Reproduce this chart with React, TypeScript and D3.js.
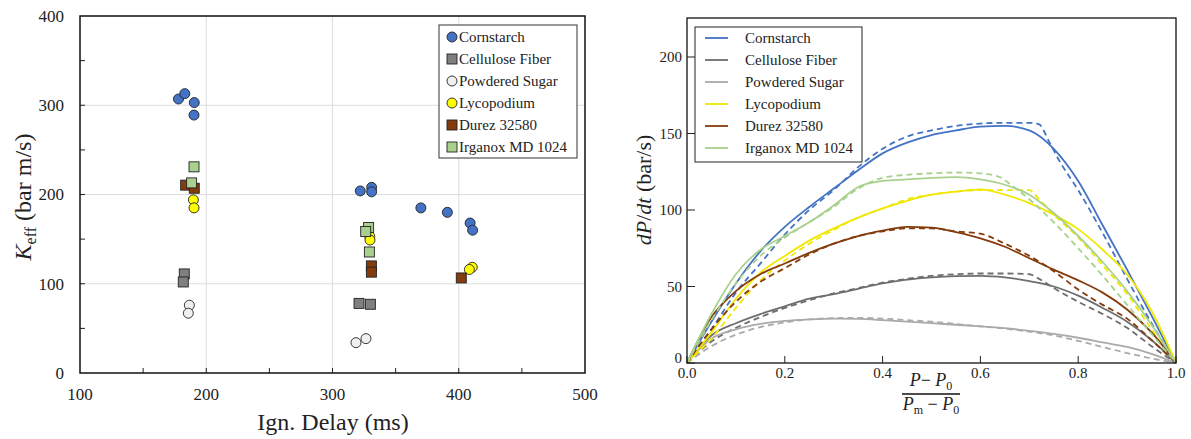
import React from 'react';
import * as d3 from 'd3';

// ---- scatter data: [ignition delay (ms), K_eff (bar m/s)] ----
const cornstarchPts = [[178, 307], [183, 313], [190.5, 303], [190.3, 289], [322, 204], [331, 208], [331, 203], [370, 185], [391, 180], [409, 168], [411, 160]];
const cellulosePts = [[182.6, 111], [181.8, 102], [321, 78], [330, 77]];
const sugarPts = [[186.6, 76], [185.8, 67], [318.6, 34], [326.5, 38.5]];
const lycopodiumPts = [[189.8, 194], [190.3, 185], [329.5, 153], [329.7, 149], [410.7, 118.5], [408.4, 116]];
const durezPts = [[183.7, 210.5], [190.5, 207], [330.8, 120], [330.8, 113], [402, 106.5]];
const irganoxPts = [[190.3, 231], [188.4, 213], [328.6, 163], [326.3, 158.5], [329.2, 135.6]];

// ---- dP/dt curves: x = (P-P0)/(Pm-P0) ----
const xs = [0, 0.05, 0.1, 0.15, 0.2, 0.25, 0.3, 0.35, 0.4, 0.45, 0.5, 0.55, 0.6, 0.65, 0.7, 0.75, 0.8, 0.85, 0.9, 0.95, 1];
const cornstarchSolid = [0, 27, 52, 73, 89, 102, 114, 126, 137, 144, 149, 152, 154.5, 155, 152, 140, 119, 90, 61, 31, 0];
const cornstarchDashX = [0, 0.05, 0.1, 0.15, 0.2, 0.25, 0.3, 0.35, 0.4, 0.45, 0.5, 0.55, 0.6, 0.65, 0.7, 0.72, 0.74, 0.76, 0.8, 0.85, 0.9, 0.95, 1];
const cornstarchDash = [0, 22, 46, 65, 84, 100, 113, 128, 140, 148, 152, 155, 156.5, 157, 157, 156, 145, 133, 113, 85, 55, 26, 0];
const celluloseSolid = [0, 18, 26, 32, 37, 42, 45, 48.5, 52, 54.5, 56, 56.8, 57, 56, 53.5, 50, 44, 36, 27, 15, 0];
const celluloseDashX = [0, 0.05, 0.1, 0.15, 0.2, 0.25, 0.3, 0.35, 0.4, 0.45, 0.5, 0.55, 0.6, 0.65, 0.7, 0.72, 0.75, 0.8, 0.85, 0.9, 0.95, 1];
const celluloseDash = [0, 14, 23, 30, 36, 41, 45.5, 49, 52.5, 55, 57, 58, 58.5, 58.5, 58, 55, 49, 40, 32, 23, 11, 0];
const sugarSolid = [0, 16, 22, 25.5, 27.5, 28.5, 29, 28.8, 28, 27, 26, 25, 24, 22.8, 21, 19, 16.5, 13.5, 10.5, 6, 0];
const sugarDash = [0, 11, 18.5, 23.5, 26.5, 28.5, 29.3, 29.5, 29, 28, 27, 25.5, 24, 22.5, 20.5, 18, 14.5, 10.5, 6.5, 3, 0];
const lycopodiumSolid = [0, 20, 42, 59, 70, 80, 88, 95, 101, 106, 110, 112, 113.5, 110, 104.5, 97, 87.5, 74, 58, 34, 0];
const lycopodiumDashX = [0, 0.05, 0.1, 0.15, 0.2, 0.25, 0.3, 0.35, 0.4, 0.45, 0.5, 0.55, 0.6, 0.65, 0.7, 0.72, 0.75, 0.8, 0.85, 0.9, 0.95, 1];
const lycopodiumDash = [0, 16, 36, 54, 67, 78, 87, 95, 101, 107, 110, 112, 113, 113, 113, 107, 97, 82, 64, 45, 22, 0];
const durezSolid = [0, 30, 47, 58, 65, 72, 78, 83, 86.5, 89, 88.5, 85.5, 81.5, 76, 68.5, 61, 54, 46, 35, 20, 0];
const durezDash = [0, 22, 40, 53, 62, 71, 78, 83, 86, 88, 88, 86, 84.5, 78, 70, 60, 48, 38, 29, 15, 0];
const irganoxSolid = [0, 32, 58, 74, 83, 92, 103, 115, 119, 120, 121, 121.5, 120, 116.5, 110, 98, 83, 66, 47, 25, 0];
const irganoxDashX = [0, 0.05, 0.1, 0.15, 0.2, 0.25, 0.3, 0.35, 0.4, 0.45, 0.5, 0.55, 0.6, 0.64, 0.66, 0.7, 0.75, 0.8, 0.85, 0.9, 0.95, 1];
const irganoxDash = [0, 28, 52, 70, 82, 92, 102, 114, 121, 123, 124, 124.5, 124, 121.5, 117, 107, 92, 75, 57, 38, 19, 0];

const xTicksL = [100, 200, 300, 400, 500];
const yTicksL = [0, 100, 200, 300, 400];
const xTicksR = [0, 0.2, 0.4, 0.6, 0.8, 1.0];
const yTicksR = [0, 50, 100, 150, 200];

const font = '"Liberation Serif", "Times New Roman", serif';

const materials = [
  { name: 'Cornstarch', shape: 'circle', fill: '#4472c4', line: '#4472c4', pts: cornstarchPts, solidX: xs, solid: cornstarchSolid, dashX: cornstarchDashX, dash: cornstarchDash },
  { name: 'Cellulose Fiber', shape: 'square', fill: '#7f7f7f', line: '#6e6e6e', pts: cellulosePts, solidX: xs, solid: celluloseSolid, dashX: celluloseDashX, dash: celluloseDash },
  { name: 'Powdered Sugar', shape: 'circle', fill: '#f0f0f0', line: '#aaaaaa', pts: sugarPts, solidX: xs, solid: sugarSolid, dashX: xs, dash: sugarDash },
  { name: 'Lycopodium', shape: 'circle', fill: '#ffff00', line: '#f0e800', pts: lycopodiumPts, solidX: xs, solid: lycopodiumSolid, dashX: lycopodiumDashX, dash: lycopodiumDash },
  { name: 'Durez 32580', shape: 'square', fill: '#843c0c', line: '#843c0c', pts: durezPts, solidX: xs, solid: durezSolid, dashX: xs, dash: durezDash },
  { name: 'Irganox MD 1024', shape: 'square', fill: '#a9d18e', line: '#a9d18e', pts: irganoxPts, solidX: xs, solid: irganoxSolid, dashX: irganoxDashX, dash: irganoxDash },
];

function Marker({ shape, fill, cx, cy }: any) {
  if (shape === 'circle') return <circle cx={cx} cy={cy} r={5} fill={fill} stroke="#222" strokeWidth={0.9} />;
  return <rect x={cx - 5} y={cy - 5} width={10} height={10} fill={fill} stroke="#222" strokeWidth={0.9} />;
}

export default function App() {
  // left scatter
  const x1 = d3.scaleLinear().domain([100, 500]).range([80, 585]);
  const y1 = d3.scaleLinear().domain([0, 400]).range([373, 16]);
  // right curves
  const x2 = d3.scaleLinear().domain([0, 1]).range([687, 1176]);
  const y2 = d3.scaleLinear().domain([0, 200]).range([363, 57]);
  const yTop = y2.invert(18);

  const line = (X: number[], Y: number[]) =>
    d3.line<number>().x((_, i) => x2(X[i])).y((d) => y2(d)).curve(d3.curveMonotoneX)(Y) || '';

  return (
    <svg width={1191} height={439} style={{ position: 'absolute', left: 0, top: 0, background: '#fff' }} fontFamily={font}>
      {/* ===== left panel ===== */}
      <g>
        {xTicksL.slice(1, -1).map((t) => (
          <line key={'gx' + t} x1={x1(t)} x2={x1(t)} y1={y1(400)} y2={y1(0)} stroke="#dddddd" strokeWidth={1} />
        ))}
        {yTicksL.slice(1, -1).map((t) => (
          <line key={'gy' + t} x1={x1(100)} x2={x1(500)} y1={y1(t)} y2={y1(t)} stroke="#dddddd" strokeWidth={1} />
        ))}
        {d3.range(150, 500, 50).map((t) => (
          <line key={'tx' + t} x1={x1(t)} x2={x1(t)} y1={y1(0)} y2={y1(0) - 5} stroke="#222" strokeWidth={1} />
        ))}
        {d3.range(50, 400, 50).map((t) => (
          <line key={'ty' + t} x1={x1(100)} x2={x1(100) + 5} y1={y1(t)} y2={y1(t)} stroke="#222" strokeWidth={1} />
        ))}
        <rect x={x1(100)} y={y1(400)} width={x1(500) - x1(100)} height={y1(0) - y1(400)} fill="none" stroke="#111" strokeWidth={1.5} />
        {xTicksL.map((t) => (
          <text key={'lx' + t} x={x1(t)} y={400} fontSize={17} textAnchor="middle" fill="#222">{t}</text>
        ))}
        {yTicksL.map((t) => (
          <text key={'ly' + t} x={64} y={y1(t)} dy="0.35em" fontSize={17} textAnchor="end" fill="#222">{t}</text>
        ))}
        {materials.map((m) =>
          m.pts.map((p, i) => <Marker key={m.name + i} shape={m.shape} fill={m.fill} cx={x1(p[0])} cy={y1(p[1])} />)
        )}
        <text x={333} y={430} fontSize={24} textAnchor="middle" fill="#222">Ign. Delay (ms)</text>
        <text transform="translate(31,197) rotate(-90)" fontSize={24} textAnchor="middle" fill="#222">
          <tspan fontStyle="italic">K</tspan>
          <tspan fontSize={16} dy={5}>eff</tspan>
          <tspan dy={-5}> (bar m/s)</tspan>
        </text>
        <rect x={439} y={25} width={138} height={133} fill="#fff" stroke="#333" strokeWidth={1} />
        {materials.map((m, i) => (
          <g key={'lg' + m.name}>
            <Marker shape={m.shape} fill={m.fill} cx={452} cy={37 + i * 22} />
            <text x={459} y={37 + i * 22} dy="0.35em" fontSize={15} fill="#222">{m.name}</text>
          </g>
        ))}
      </g>

      {/* ===== right panel ===== */}
      <g>
        {materials.map((m) => (
          <g key={'c' + m.name}>
            <path d={line(m.solidX, m.solid)} fill="none" stroke={m.line} strokeWidth={1.8} />
            <path d={line(m.dashX, m.dash)} fill="none" stroke={m.line} strokeWidth={1.8} strokeDasharray="6,4" />
          </g>
        ))}
        <rect x={x2(0)} y={y2(yTop)} width={x2(1) - x2(0)} height={y2(0) - y2(yTop)} fill="none" stroke="#111" strokeWidth={1.3} />
        {xTicksR.map((t) => (
          <g key={'rx' + t}>
            <line x1={x2(t)} x2={x2(t)} y1={y2(0)} y2={y2(0) - 7} stroke="#222" strokeWidth={1} />
            <text x={x2(t)} y={378} fontSize={15} textAnchor="middle" fill="#222">{t.toFixed(1)}</text>
          </g>
        ))}
        {yTicksR.map((t) => (
          <g key={'ry' + t}>
            <line x1={x2(0)} x2={x2(0) + 8} y1={y2(t)} y2={y2(t)} stroke="#222" strokeWidth={1} />
            <text x={682} y={t === 0 ? y2(t) - 5 : y2(t)} dy="0.35em" fontSize={15} textAnchor="end" fill="#222">{t}</text>
          </g>
        ))}
        <text transform="translate(651,190) rotate(-90)" fontSize={22} textAnchor="middle" fill="#222">
          <tspan fontStyle="italic">dP</tspan>
          <tspan>/</tspan>
          <tspan fontStyle="italic">dt</tspan>
          <tspan> (bar/s)</tspan>
        </text>
        <text x={931} y={386} fontSize={18} textAnchor="middle" fill="#222">
          <tspan fontStyle="italic">P</tspan>
          <tspan>− </tspan>
          <tspan fontStyle="italic">P</tspan>
          <tspan fontSize={12} dy={4}>0</tspan>
        </text>
        <line x1={902} x2={960} y1={394} y2={394} stroke="#111" strokeWidth={1.5} />
        <text x={931} y={410} fontSize={18} textAnchor="middle" fill="#222">
          <tspan fontStyle="italic">P</tspan>
          <tspan fontSize={12} dy={4}>m</tspan>
          <tspan dy={-4}> − </tspan>
          <tspan fontStyle="italic">P</tspan>
          <tspan fontSize={12} dy={4}>0</tspan>
        </text>
        <rect x={695} y={27} width={167} height={135} fill="#fff" stroke="#222" strokeWidth={1} />
        {materials.map((m, i) => (
          <g key={'rl' + m.name}>
            <line x1={705} x2={728} y1={38 + i * 22} y2={38 + i * 22} stroke={m.line} strokeWidth={1.8} />
            <text x={745} y={38 + i * 22} dy="0.35em" fontSize={15} fill="#222">{m.name}</text>
          </g>
        ))}
      </g>
    </svg>
  );
}
